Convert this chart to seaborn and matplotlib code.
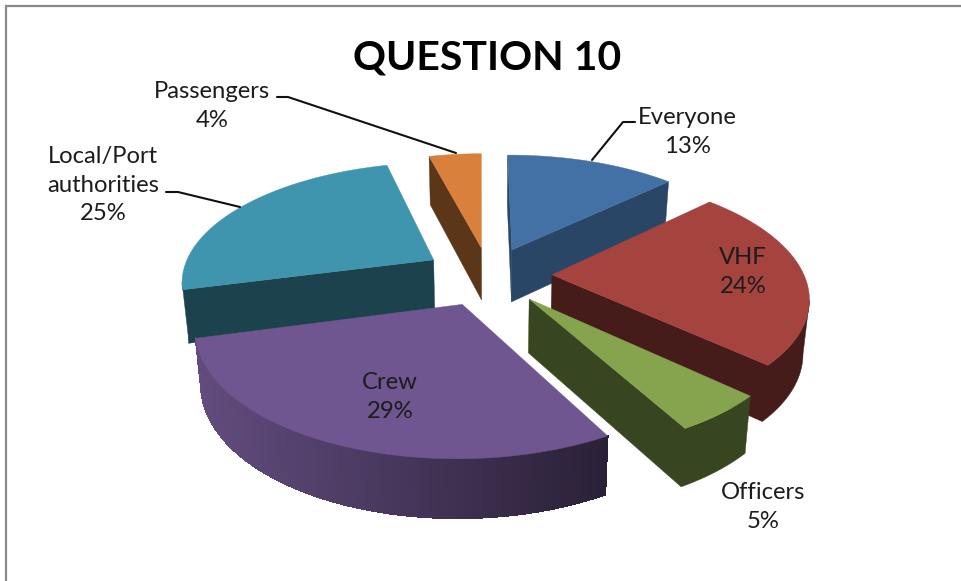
import numpy as np
import seaborn as sns
import matplotlib
matplotlib.use("Agg")
import matplotlib.pyplot as plt
from matplotlib.collections import PolyCollection

# Survey answers in percent, clockwise from twelve o'clock
categories = ["Everyone", "VHF", "Officers", "Crew", "Local/Port\nauthorities", "Passengers"]
percent = [13, 24, 5, 29, 25, 4]
slice_colors = ["#4371a6", "#a5433f", "#86a44e", "#6f5690", "#4095ae", "#d8803c"]
title_text = "QUESTION 10"

sns.set_theme(style="white")
plt.rcParams["font.family"] = ["Lato", "DejaVu Sans"]
palette = sns.color_palette(slice_colors)

# Tilted pie geometry, in canvas pixels
CX, CY = 489.0, 275.0
RX, RY = 252.0, 118.0
TILT = 0.165        # perspective strength
DEPTH = 53.0        # thickness of the disc
TAPER = 0.02        # narrowing of the underside
START = np.radians(-0.3)  # first slice starts just left of twelve o'clock

# Slice offset from the centre, as a fraction of the radius
explode = [0.24, 0.25, 0.25, 0.26, 0.26, 0.24]

# Wall darkening per slice; the crew rim fades from left to right
wall_factor = [0.62, 0.42, 0.42, None, 0.44, 0.42]

# Painted from the back of the pie to the front
paint_order = [5, 4, 0, 1, 3, 2]


def project(u, v, drop=0.0):
    s = 1.0 / (1.0 + TILT * v)
    scale = 1.0 - TAPER * drop
    return np.column_stack((CX + RX * u * s * scale,
                            CY - RY * v * s + DEPTH * np.sqrt(s) * drop))


def shade(color, factor):
    return tuple(c * factor for c in color)


fig, ax = plt.subplots(figsize=(9.61, 5.81), dpi=100)
ax.set_position([0, 0, 1, 1])
ax.set_xlim(0, 961)
ax.set_ylim(581, 0)
ax.axis("off")

# Chart frame: only the top and left edges are present
ax.plot([6, 6, 961], [581, 6, 6], color="#8a8a8a", lw=1.6, solid_joinstyle="miter", zorder=1)

edges = START + np.cumsum([0] + percent) / sum(percent) * 2 * np.pi

for layer, i in enumerate(paint_order):
    t0, t1 = edges[i], edges[i + 1]
    mid = (t0 + t1) / 2
    ou, ov = explode[i] * np.sin(mid), explode[i] * np.cos(mid)
    theta = np.linspace(t0, t1, max(12, percent[i] * 6))
    u = np.concatenate(([ou], ou + np.sin(theta)))
    v = np.concatenate(([ov], ov + np.cos(theta)))
    color = palette[i]
    top = project(u, v)
    low = project(u, v, 1.0)
    n = len(u)

    # Walk the outline clockwise; a wall shows where the outline runs right to left
    runs, run = [], []
    for j in range(n):
        k = (j + 1) % n
        if top[k, 0] < top[j, 0]:
            run = run or [j]
            run.append(k)
        elif run:
            runs.append(run)
            run = []
    if run:
        runs.append(run)

    z = 2 + layer
    factor = wall_factor[i]
    for run in runs:
        outline = np.vstack((top[run], low[run][::-1]))
        base = 0.6 if factor is None else factor
        ax.fill(outline[:, 0], outline[:, 1], color=shade(color, base), lw=0.3, zorder=z)
        if factor is None:
            # Smooth rim gradient built from hard-edged strips laid over the base wall
            polys, fills = [], []
            for a, b in zip(run[:-1], run[1:]):
                polys.append([top[a], top[b], low[b], low[a]])
                pos = np.clip((top[a, 0] - 197) / (607 - 197), 0, 1)
                fills.append(shade(color, 0.88 - 0.50 * pos))
            ax.add_collection(PolyCollection(polys, facecolors=fills, edgecolors=fills,
                                             linewidths=0.6, antialiaseds=False, zorder=z + 0.2))
    ax.fill(top[:, 0], top[:, 1], color=color, lw=0.3, zorder=z + 0.5)

# Data labels with their leader lines
label_color = "#1c1c1c"
label_pos = [(687, 132), (743, 272), (763, 507), (390, 397), (103, 185), (212, 106)]
for name, pct, (x, y) in zip(categories, percent, label_pos):
    ax.text(x, y, f"{name}\n{pct}%", ha="center", va="center", fontsize=17.2,
            color=label_color, linespacing=1.43, zorder=20)

leaders = [([277, 288, 456], [97, 97, 153]),
           ([166, 178, 240], [192, 192, 207]),
           ([635, 623, 592], [122, 122, 160])]
for lx, ly in leaders:
    ax.plot(lx, ly, color="#111111", lw=1.5, zorder=19)

ax.text(487, 58, title_text, ha="center", va="center", fontsize=29.5, fontweight="bold",
        color="black", zorder=20)

fig.savefig("out.png", dpi=100, facecolor="white")
